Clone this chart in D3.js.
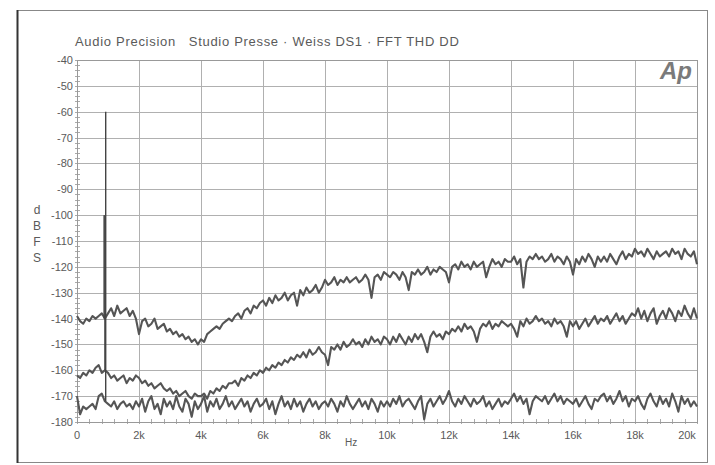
<!DOCTYPE html>
<html lang="en">
	<head>
		<meta charset="utf-8" />
		<title>FFT THD DD</title>
		<script type="text/javascript" src="https://cdn.jsdelivr.net/npm/d3@7"></script>
		<style type="text/css">
			body { margin: 0; background: #fff; }
			text { font-family: "Liberation Sans", Arial, sans-serif; fill: #5a5a5a; }
		</style>
	</head>
	<body>
		<script type="text/javascript">
			//Frequency bins, 100 Hz apart (0 .. 20 kHz)
			var freqs = d3.range(0, 20001, 100);

			//Top trace (dBFS), one row per kHz
			var traceA = [
				-139,-141,-142,-140,-141,-139,-140,-139,-138,-140,
				-138,-136,-139,-135,-138,-137,-136,-139,-137,-140,
				-146,-141,-140,-143,-142,-140,-144,-143,-142,-145,
				-144,-146,-145,-147,-146,-148,-147,-149,-148,-150,
				-148,-149,-146,-145,-144,-143,-144,-142,-141,-140,
				-141,-139,-138,-140,-137,-136,-138,-135,-136,-134,
				-133,-135,-132,-134,-131,-133,-132,-130,-133,-131,
				-130,-135,-129,-131,-128,-130,-129,-127,-130,-128,
				-125,-127,-126,-124,-127,-125,-126,-124,-126,-125,
				-124,-126,-125,-123,-125,-132,-124,-123,-125,-122,
				-123,-124,-122,-123,-125,-122,-124,-129,-122,-123,
				-121,-123,-122,-120,-123,-121,-122,-120,-121,-122,
				-126,-120,-119,-121,-118,-120,-119,-121,-118,-120,
				-119,-118,-124,-120,-117,-119,-118,-120,-117,-118,
				-118,-116,-119,-117,-128,-118,-116,-117,-115,-117,
				-116,-118,-117,-115,-118,-116,-117,-119,-116,-118,
				-123,-117,-119,-116,-118,-115,-117,-120,-116,-118,
				-116,-118,-115,-117,-119,-116,-114,-117,-115,-116,
				-113,-115,-114,-116,-113,-115,-117,-114,-116,-115,
				-114,-116,-113,-115,-114,-117,-113,-115,-116,-114,
				-119
			];

			//Middle trace
			var traceB = [
				-162,-163,-161,-162,-160,-161,-159,-158,-161,-160,
				-161,-163,-162,-164,-163,-162,-165,-163,-164,-162,
				-163,-165,-164,-166,-165,-167,-166,-165,-167,-168,
				-167,-169,-168,-170,-169,-168,-170,-171,-169,-170,
				-170,-169,-171,-168,-169,-167,-168,-166,-167,-165,
				-165,-164,-166,-163,-164,-162,-163,-161,-162,-160,
				-161,-159,-160,-158,-159,-157,-158,-156,-157,-155,
				-156,-154,-155,-153,-155,-152,-154,-153,-151,-153,
				-154,-158,-151,-152,-150,-152,-149,-151,-150,-148,
				-150,-149,-151,-148,-150,-147,-149,-148,-150,-147,
				-148,-150,-147,-149,-146,-148,-150,-147,-149,-146,
				-148,-146,-149,-153,-147,-145,-147,-146,-148,-145,
				-146,-144,-145,-143,-145,-142,-144,-143,-145,-149,
				-144,-142,-143,-141,-144,-142,-143,-141,-142,-143,
				-142,-144,-147,-141,-143,-140,-142,-141,-139,-141,
				-140,-142,-141,-143,-140,-142,-141,-143,-147,-141,
				-143,-141,-144,-142,-140,-143,-141,-139,-142,-140,
				-141,-139,-142,-140,-138,-141,-139,-142,-140,-138,
				-139,-136,-140,-137,-141,-138,-136,-142,-139,-137,
				-140,-136,-138,-141,-137,-139,-135,-138,-140,-136,
				-140
			];

			//Bottom trace
			var traceC = [
				-170,-177,-174,-175,-174,-173,-175,-170,-169,-172,
				-173,-174,-172,-175,-173,-172,-174,-173,-175,-172,
				-174,-171,-176,-172,-170,-175,-173,-177,-171,-174,
				-172,-175,-170,-174,-176,-171,-173,-178,-172,-175,
				-173,-170,-176,-172,-174,-171,-175,-173,-170,-174,
				-172,-175,-173,-171,-174,-172,-176,-173,-171,-174,
				-173,-171,-175,-172,-177,-173,-170,-174,-172,-175,
				-171,-174,-172,-176,-173,-171,-174,-172,-175,-173,
				-172,-174,-171,-173,-176,-172,-174,-170,-173,-175,
				-173,-171,-174,-172,-175,-171,-173,-176,-172,-174,
				-172,-174,-171,-173,-170,-174,-172,-171,-173,-175,
				-172,-170,-179,-173,-171,-174,-172,-170,-173,-171,
				-168,-172,-174,-171,-173,-170,-172,-174,-171,-173,
				-172,-170,-174,-172,-175,-173,-171,-174,-172,-173,
				-171,-169,-172,-170,-173,-171,-177,-172,-170,-171,
				-172,-170,-173,-171,-169,-172,-170,-173,-171,-172,
				-173,-171,-174,-172,-170,-173,-175,-171,-172,-170,
				-169,-172,-170,-173,-171,-168,-172,-170,-174,-171,
				-172,-170,-173,-175,-171,-169,-172,-174,-170,-173,
				-171,-174,-169,-172,-176,-170,-173,-171,-174,-172,
				-174
			];

			//Test tone and its peak level on each trace
			var toneHz = 900;
			var tonePeaks = [-100, -100, -60];

			var xTickValues = [0, 2000, 4000, 6000, 8000, 10000, 12000, 14000, 16000, 18000, 20000];
			var xTickLabels = ["0", "2k", "4k", "6k", "8k", "10k", "12k", "14k", "16k", "18k", "20k"];
			var yTickValues = [-40, -50, -60, -70, -80, -90, -100, -110, -120, -130, -140, -150, -160, -170, -180];

			var title = "Audio Precision   Studio Presse \u00b7 Weiss DS1 \u00b7 FFT THD DD";

			var w = 715;
			var h = 465;
			var plotL = 77, plotR = 697, plotT = 60, plotB = 422;

			var xScale = d3.scaleLinear().domain([0, 20000]).range([plotL, plotR]);
			var yScale = d3.scaleLinear().domain([-40, -180]).range([plotT, plotB]);

			var svg = d3
				.select("body")
				.append("svg")
				.attr("width", w)
				.attr("height", h);

			//Outer frame
			svg.append("rect")
				.attr("x", 17.5)
				.attr("y", 10.5)
				.attr("width", 690)
				.attr("height", 452)
				.attr("fill", "none")
				.attr("stroke", "#888")
				.attr("stroke-width", 1);
			svg.append("line")
				.attr("x1", 17.5).attr("x2", 17.5)
				.attr("y1", 10).attr("y2", 463)
				.attr("stroke", "#333")
				.attr("stroke-width", 2);

			//Title
			svg.append("text")
				.attr("x", 75)
				.attr("y", 46)
				.attr("font-size", 13)
				.attr("letter-spacing", 0.7)
				.style("white-space", "pre")
				.text(title);

			//Grid
			var grid = svg.append("g").attr("stroke", "#b0b0b0").attr("stroke-width", 1);
			grid.selectAll(".hg")
				.data(yTickValues)
				.enter()
				.append("line")
				.attr("x1", plotL)
				.attr("x2", plotR)
				.attr("y1", function(d) { return Math.round(yScale(d)) + 0.5; })
				.attr("y2", function(d) { return Math.round(yScale(d)) + 0.5; });
			grid.selectAll(".vg")
				.data(xTickValues)
				.enter()
				.append("line")
				.attr("y1", plotT)
				.attr("y2", plotB)
				.attr("x1", function(d) { return Math.round(xScale(d)) + 0.5; })
				.attr("x2", function(d) { return Math.round(xScale(d)) + 0.5; });

			//Minor ticks
			var minor = svg.append("g").attr("stroke", "#aaa").attr("stroke-width", 1);
			minor.selectAll(".my")
				.data(d3.range(-40, -181, -2))
				.enter()
				.append("line")
				.attr("x1", plotL - 2)
				.attr("x2", plotL + 3)
				.attr("y1", function(d) { return Math.round(yScale(d)) + 0.5; })
				.attr("y2", function(d) { return Math.round(yScale(d)) + 0.5; });
			minor.selectAll(".mx")
				.data(d3.range(0, 20001, 400))
				.enter()
				.append("line")
				.attr("y1", plotB - 3)
				.attr("y2", plotB + 2)
				.attr("x1", function(d) { return Math.round(xScale(d)) + 0.5; })
				.attr("x2", function(d) { return Math.round(xScale(d)) + 0.5; });

			//Y labels
			svg.append("g")
				.selectAll("text")
				.data(yTickValues)
				.enter()
				.append("text")
				.attr("x", plotL - 4)
				.attr("y", function(d) { return yScale(d) + 4; })
				.attr("text-anchor", "end")
				.attr("font-size", 11)
				.text(function(d) { return d; });

			//X labels
			svg.append("g")
				.selectAll("text")
				.data(xTickValues)
				.enter()
				.append("text")
				.attr("x", function(d, i) { return xScale(d) - (i == xTickValues.length - 1 ? 10 : 0); })
				.attr("y", plotB + 17)
				.attr("text-anchor", "middle")
				.attr("font-size", 11)
				.text(function(d, i) { return xTickLabels[i]; });

			svg.append("text")
				.attr("x", 345)
				.attr("y", 446)
				.attr("font-size", 10)
				.text("Hz");

			//Stacked dBFS label
			svg.append("g")
				.selectAll("text")
				.data(["d", "B", "F", "S"])
				.enter()
				.append("text")
				.attr("x", 37)
				.attr("y", function(d, i) { return 214 + i * 16; })
				.attr("text-anchor", "middle")
				.attr("font-size", 12)
				.text(function(d) { return d; });

			//Ap logo
			svg.append("text")
				.attr("x", 692)
				.attr("y", 79)
				.attr("text-anchor", "end")
				.attr("font-size", 24)
				.attr("font-weight", "bold")
				.attr("font-style", "italic")
				.style("fill", "#7a7a7a")
				.text("Ap");

			//Plot border
			svg.append("rect")
				.attr("x", plotL + 0.5)
				.attr("y", plotT + 0.5)
				.attr("width", plotR - plotL)
				.attr("height", plotB - plotT)
				.attr("fill", "none")
				.attr("stroke", "#999");

			//Traces
			var line = d3.line()
				.x(function(d, i) { return xScale(freqs[i]); })
				.y(function(d) { return yScale(d); });

			var traces = [traceA, traceB, traceC];
			svg.append("g")
				.selectAll("path")
				.data(traces)
				.enter()
				.append("path")
				.attr("d", line)
				.attr("fill", "none")
				.attr("stroke", "#555")
				.attr("stroke-width", 2.1)
				.attr("stroke-linejoin", "round");

			//Tone spikes
			var toneIndex = freqs.indexOf(toneHz);
			svg.append("g")
				.selectAll("line")
				.data(traces)
				.enter()
				.append("line")
				.attr("x1", function(d, i) { return xScale(toneHz) + (i - 1) * 0.8; })
				.attr("x2", function(d, i) { return xScale(toneHz) + (i - 1) * 0.8; })
				.attr("y1", function(d) { return yScale(d[toneIndex]); })
				.attr("y2", function(d, i) { return yScale(tonePeaks[i]); })
				.attr("stroke", "#444")
				.attr("stroke-width", 1.4);
		</script>
	</body>
</html>
